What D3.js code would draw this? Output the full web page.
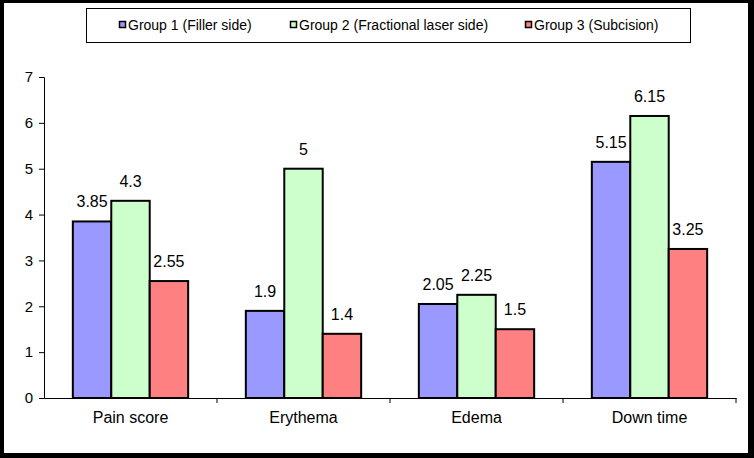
<!DOCTYPE html>
<html><head><meta charset="utf-8">
<script src="https://cdn.jsdelivr.net/npm/d3@7"></script>
<style>html,body{margin:0;padding:0;background:#000;}svg{display:block;}text{font-family:"Liberation Sans",Arial,sans-serif;}</style>
</head><body>
<script>
const categories = ["Pain score", "Erythema", "Edema", "Down time"];
const seriesNames = ["Group 1 (Filler side)", "Group 2 (Fractional laser side)", "Group 3 (Subcision)"];
const group1 = [3.85, 1.9, 2.05, 5.15];
const group2 = [4.3, 5, 2.25, 6.15];
const group3 = [2.55, 1.4, 1.5, 3.25];
const yTicks = [0, 1, 2, 3, 4, 5, 6, 7];
const colors = ["#9999FF", "#CCFFCC", "#FF8080"];

(function () {
const W = 754, H = 458;
const svg = d3.select("body").append("svg").attr("width", W).attr("height", H);
svg.append("rect").attr("x", 0).attr("y", 0).attr("width", W).attr("height", H).attr("fill", "#000");
svg.append("rect").attr("x", 4).attr("y", 3).attr("width", 744).attr("height", 450).attr("fill", "#fff");

const font = "'Liberation Sans', Arial, sans-serif";
const mLeft = 44, mRight = 736, mTop = 77, mBottom = 398;
const x = d3.scaleBand().domain(categories).range([mLeft, mRight]).paddingInner(0).paddingOuter(0);
const bw = x.bandwidth() / 4.5;
const x1 = d3.scaleBand().domain(seriesNames).range([0.75 * bw, 3.75 * bw]);
const y = d3.scaleLinear().domain([0, 7]).range([mBottom, mTop]);

const series = [group1, group2, group3];

const yAxis = svg.append("g").attr("transform", `translate(${mLeft},0)`)
  .call(d3.axisLeft(y).tickValues(yTicks).tickSize(5).tickPadding(6).tickFormat(d3.format("d")));
yAxis.select(".domain").attr("stroke", "#000").attr("stroke-width", 1);
yAxis.selectAll("text").attr("font-family", font).attr("font-size", 15).attr("fill", "#000");

series.forEach((vals, si) => {
  svg.append("g").selectAll("rect").data(vals).join("rect")
    .attr("x", (d, i) => x(categories[i]) + x1(seriesNames[si]))
    .attr("y", d => y(d))
    .attr("width", x1.bandwidth())
    .attr("height", d => y(0) - y(d))
    .attr("fill", colors[si]).attr("stroke", "#000").attr("stroke-width", 2);
  svg.append("g").selectAll("text").data(vals).join("text")
    .attr("x", (d, i) => x(categories[i]) + x1(seriesNames[si]) + x1.bandwidth() / 2)
    .attr("y", d => y(d) - 14)
    .attr("text-anchor", "middle")
    .attr("font-family", font).attr("font-size", 16).attr("fill", "#000")
    .text(d => d);
});

const xAxis = svg.append("g").attr("transform", `translate(0,${mBottom})`)
  .call(d3.axisBottom(x).tickSize(0).tickPadding(14));
xAxis.select(".domain").attr("stroke", "#000").attr("stroke-width", 1);
xAxis.selectAll("text").attr("font-family", font).attr("font-size", 16).attr("fill", "#000");
const bounds = categories.map(c => x(c) + x.bandwidth());
svg.append("g").selectAll("line").data(bounds).join("line")
  .attr("x1", d => d).attr("x2", d => d).attr("y1", mBottom).attr("y2", mBottom + 5)
  .attr("stroke", "#000").attr("stroke-width", 1);

const lg = svg.append("g");
lg.append("rect").attr("x", 86.5).attr("y", 8.5).attr("width", 604).attr("height", 34)
  .attr("fill", "#fff").attr("stroke", "#000").attr("stroke-width", 1);
const lx = [119, 290, 525];
seriesNames.forEach((n, i) => {
  lg.append("rect").attr("x", lx[i] + 0.5).attr("y", 21.5).attr("width", 6).attr("height", 6)
    .attr("fill", colors[i]).attr("stroke", "#000").attr("stroke-width", 1.5);
  lg.append("text").attr("x", lx[i] + 9).attr("y", 30)
    .attr("font-family", font).attr("font-size", 14).attr("fill", "#000").text(n);
});
})();
</script>
</body></html>
